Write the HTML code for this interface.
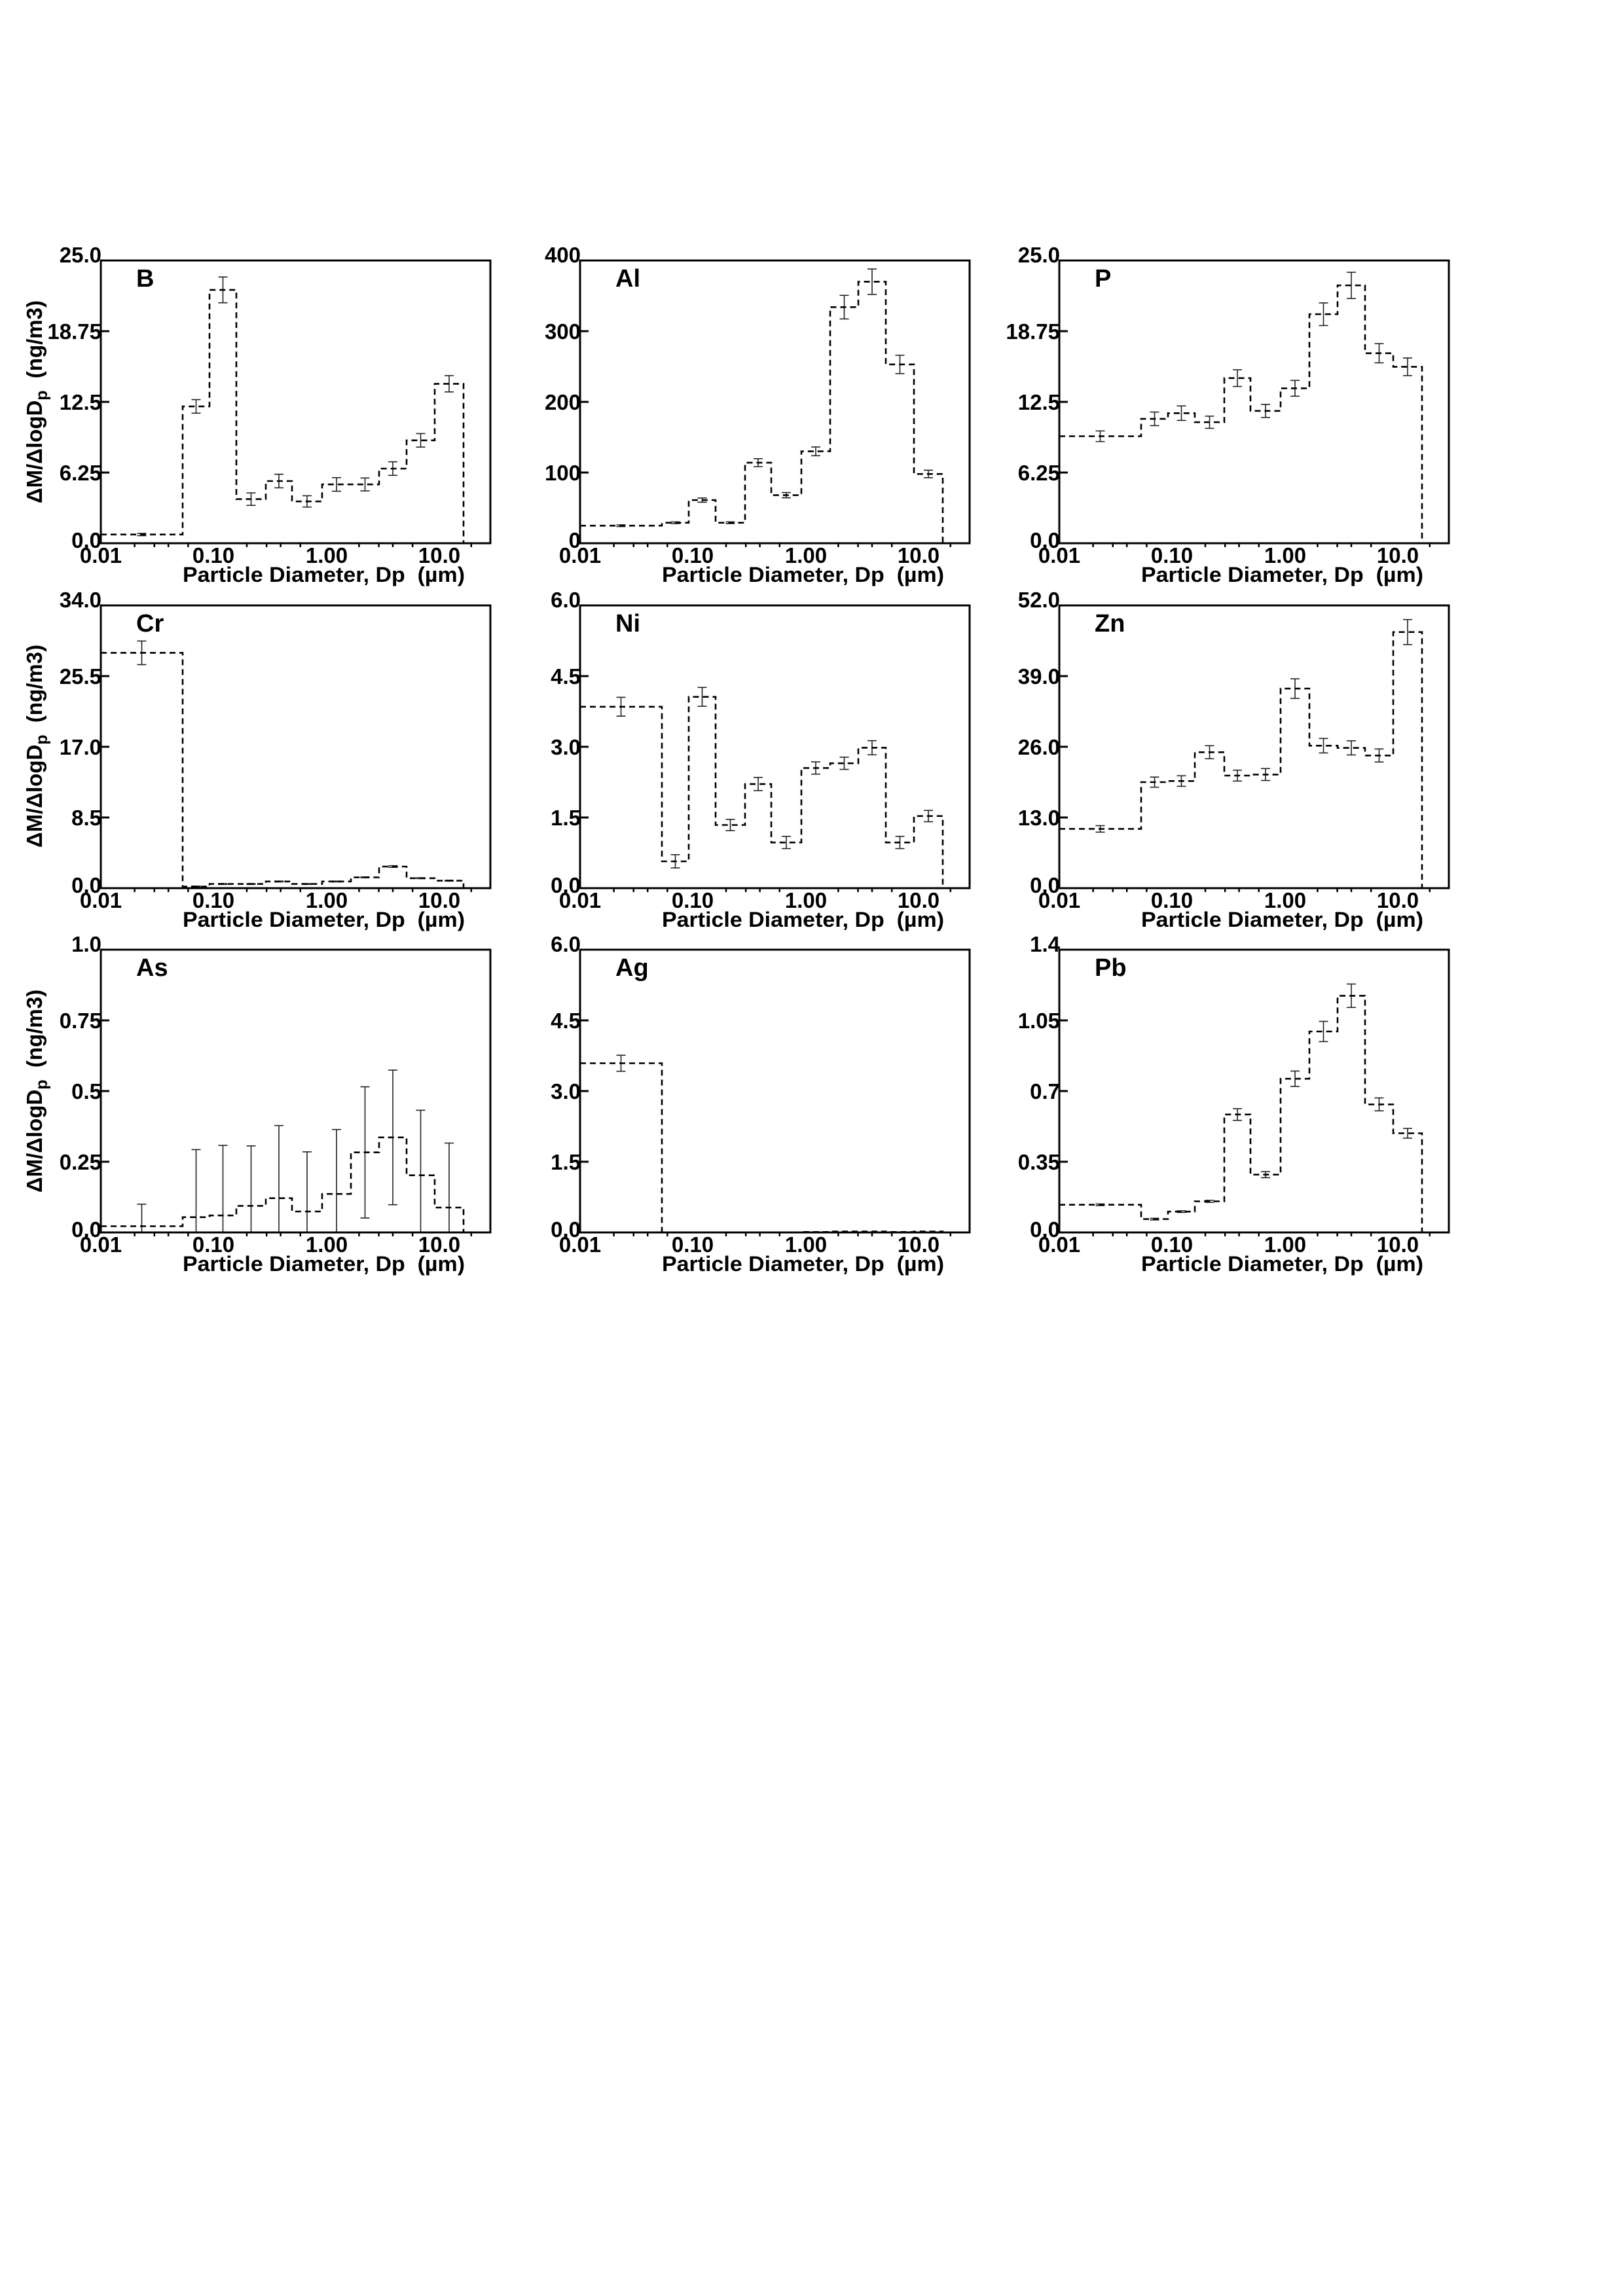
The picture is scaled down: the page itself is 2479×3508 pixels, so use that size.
<!DOCTYPE html>
<html><head><meta charset="utf-8">
<style>
html,body{margin:0;padding:0;background:#fff;}
svg{display:block;}
text{font-family:"Liberation Sans",Arial,sans-serif;font-weight:bold;fill:#000;}
.t{font-size:33px;}
.xt{font-size:33px;text-anchor:middle;}
.yt{text-anchor:end;}
.ti{font-size:32px;}
.lb{font-size:38px;}
</style></head>
<body>
<svg id="s" width="2479" height="3508" viewBox="0 0 2479 3508" xmlns="http://www.w3.org/2000/svg">
<rect width="2479" height="3508" fill="#fff"/>

<text transform="translate(64,614) rotate(-90)" text-anchor="middle" style="font-size:33px">ΔM/ΔlogD<tspan dy="8" style="font-size:25px">p</tspan><tspan dy="-8"> &#160;(ng/m3)</tspan></text>
<text transform="translate(64,1140) rotate(-90)" text-anchor="middle" style="font-size:33px">ΔM/ΔlogD<tspan dy="8" style="font-size:25px">p</tspan><tspan dy="-8"> &#160;(ng/m3)</tspan></text>
<text transform="translate(64,1667) rotate(-90)" text-anchor="middle" style="font-size:33px">ΔM/ΔlogD<tspan dy="8" style="font-size:25px">p</tspan><tspan dy="-8"> &#160;(ng/m3)</tspan></text>

<g id="p0" transform="translate(154,398)">
<text class="t yt" x="1" y="3">25.0</text><text class="t yt" x="1" y="120">18.75</text><text class="t yt" x="1" y="228">12.5</text><text class="t yt" x="1" y="336">6.25</text><text class="t yt" x="1" y="439">0.0</text>
<text class="xt" x="0" y="462">0.01</text><text class="xt" x="172" y="462">0.10</text><text class="xt" x="345" y="462">1.00</text><text class="xt" x="517" y="462">10.0</text>
<text class="ti" x="125" y="491" textLength="431" lengthAdjust="spacingAndGlyphs">Particle Diameter, Dp &#160;(µm)</text>
<text class="lb" x="54" y="40">B</text>
</g>
<g id="p1" transform="translate(886,398)">
<text class="t yt" x="1" y="3">400</text><text class="t yt" x="1" y="120">300</text><text class="t yt" x="1" y="228">200</text><text class="t yt" x="1" y="336">100</text><text class="t yt" x="1" y="439">0</text>
<text class="xt" x="0" y="462">0.01</text><text class="xt" x="172" y="462">0.10</text><text class="xt" x="345" y="462">1.00</text><text class="xt" x="517" y="462">10.0</text>
<text class="ti" x="125" y="491" textLength="431" lengthAdjust="spacingAndGlyphs">Particle Diameter, Dp &#160;(µm)</text>
<text class="lb" x="54" y="40">Al</text>
</g>
<g id="p2" transform="translate(1618,398)">
<text class="t yt" x="1" y="3">25.0</text><text class="t yt" x="1" y="120">18.75</text><text class="t yt" x="1" y="228">12.5</text><text class="t yt" x="1" y="336">6.25</text><text class="t yt" x="1" y="439">0.0</text>
<text class="xt" x="0" y="462">0.01</text><text class="xt" x="172" y="462">0.10</text><text class="xt" x="345" y="462">1.00</text><text class="xt" x="517" y="462">10.0</text>
<text class="ti" x="125" y="491" textLength="431" lengthAdjust="spacingAndGlyphs">Particle Diameter, Dp &#160;(µm)</text>
<text class="lb" x="54" y="40">P</text>
</g>
<g id="p3" transform="translate(154,925)">
<text class="t yt" x="1" y="3">34.0</text><text class="t yt" x="1" y="120">25.5</text><text class="t yt" x="1" y="228">17.0</text><text class="t yt" x="1" y="336">8.5</text><text class="t yt" x="1" y="439">0.0</text>
<text class="xt" x="0" y="462">0.01</text><text class="xt" x="172" y="462">0.10</text><text class="xt" x="345" y="462">1.00</text><text class="xt" x="517" y="462">10.0</text>
<text class="ti" x="125" y="491" textLength="431" lengthAdjust="spacingAndGlyphs">Particle Diameter, Dp &#160;(µm)</text>
<text class="lb" x="54" y="40">Cr</text>
</g>
<g id="p4" transform="translate(886,925)">
<text class="t yt" x="1" y="3">6.0</text><text class="t yt" x="1" y="120">4.5</text><text class="t yt" x="1" y="228">3.0</text><text class="t yt" x="1" y="336">1.5</text><text class="t yt" x="1" y="439">0.0</text>
<text class="xt" x="0" y="462">0.01</text><text class="xt" x="172" y="462">0.10</text><text class="xt" x="345" y="462">1.00</text><text class="xt" x="517" y="462">10.0</text>
<text class="ti" x="125" y="491" textLength="431" lengthAdjust="spacingAndGlyphs">Particle Diameter, Dp &#160;(µm)</text>
<text class="lb" x="54" y="40">Ni</text>
</g>
<g id="p5" transform="translate(1618,925)">
<text class="t yt" x="1" y="3">52.0</text><text class="t yt" x="1" y="120">39.0</text><text class="t yt" x="1" y="228">26.0</text><text class="t yt" x="1" y="336">13.0</text><text class="t yt" x="1" y="439">0.0</text>
<text class="xt" x="0" y="462">0.01</text><text class="xt" x="172" y="462">0.10</text><text class="xt" x="345" y="462">1.00</text><text class="xt" x="517" y="462">10.0</text>
<text class="ti" x="125" y="491" textLength="431" lengthAdjust="spacingAndGlyphs">Particle Diameter, Dp &#160;(µm)</text>
<text class="lb" x="54" y="40">Zn</text>
</g>
<g id="p6" transform="translate(154,1451)">
<text class="t yt" x="1" y="3">1.0</text><text class="t yt" x="1" y="120">0.75</text><text class="t yt" x="1" y="228">0.5</text><text class="t yt" x="1" y="336">0.25</text><text class="t yt" x="1" y="439">0.0</text>
<text class="xt" x="0" y="462">0.01</text><text class="xt" x="172" y="462">0.10</text><text class="xt" x="345" y="462">1.00</text><text class="xt" x="517" y="462">10.0</text>
<text class="ti" x="125" y="491" textLength="431" lengthAdjust="spacingAndGlyphs">Particle Diameter, Dp &#160;(µm)</text>
<text class="lb" x="54" y="40">As</text>
</g>
<g id="p7" transform="translate(886,1451)">
<text class="t yt" x="1" y="3">6.0</text><text class="t yt" x="1" y="120">4.5</text><text class="t yt" x="1" y="228">3.0</text><text class="t yt" x="1" y="336">1.5</text><text class="t yt" x="1" y="439">0.0</text>
<text class="xt" x="0" y="462">0.01</text><text class="xt" x="172" y="462">0.10</text><text class="xt" x="345" y="462">1.00</text><text class="xt" x="517" y="462">10.0</text>
<text class="ti" x="125" y="491" textLength="431" lengthAdjust="spacingAndGlyphs">Particle Diameter, Dp &#160;(µm)</text>
<text class="lb" x="54" y="40">Ag</text>
</g>
<g id="p8" transform="translate(1618,1451)">
<text class="t yt" x="1" y="3">1.4</text><text class="t yt" x="1" y="120">1.05</text><text class="t yt" x="1" y="228">0.7</text><text class="t yt" x="1" y="336">0.35</text><text class="t yt" x="1" y="439">0.0</text>
<text class="xt" x="0" y="462">0.01</text><text class="xt" x="172" y="462">0.10</text><text class="xt" x="345" y="462">1.00</text><text class="xt" x="517" y="462">10.0</text>
<text class="ti" x="125" y="491" textLength="431" lengthAdjust="spacingAndGlyphs">Particle Diameter, Dp &#160;(µm)</text>
<text class="lb" x="54" y="40">Pb</text>
</g>
</svg>
<script>
(function(){
var NS="http://www.w3.org/2000/svg";
var W=595,H=432,DEC=171.4;
var E=[0,125,166,207,252,292,338,382,425,467,510,554];
var D=[
 {m:25,v:[0.77,12.1,22.4,3.9,5.5,3.7,5.2,5.2,6.6,9.1,14.1],e:[0.1,0.6,1.14,0.55,0.6,0.5,0.6,0.57,0.6,0.6,0.72]},
 {m:400,v:[24.8,29,61,29,114,68,130,334,370,253,98],e:[1.2,1.2,3,1.2,5.6,3.7,6.2,16.7,18,13,5.3]},
 {m:25,v:[9.46,11.0,11.5,10.7,14.6,11.7,13.7,20.25,22.8,16.8,15.6],e:[0.47,0.6,0.64,0.54,0.74,0.58,0.7,1.0,1.16,0.85,0.78]},
 {m:34,v:[28.3,0.2,0.5,0.5,0.8,0.5,0.8,1.3,2.6,1.2,0.9],e:[1.42,0.05,0.05,0.05,0.05,0.05,0.05,0.05,0.1,0.05,0.05]},
 {m:6,v:[3.85,0.57,4.06,1.34,2.21,0.97,2.55,2.65,2.98,0.97,1.53],e:[0.2,0.14,0.2,0.12,0.14,0.13,0.13,0.13,0.15,0.13,0.12]},
 {m:52,v:[10.9,19.5,19.7,25,20.7,20.9,36.7,26.2,25.8,24.4,47.1],e:[0.6,0.93,0.97,1.2,1.0,1.1,1.8,1.33,1.3,1.2,2.3]},
 {m:1,v:[0.022,0.054,0.06,0.094,0.121,0.074,0.136,0.283,0.336,0.202,0.088],e:[0.078,0.239,0.248,0.212,0.257,0.211,0.228,0.232,0.238,0.23,0.228]},
 {m:6,v:[3.59,0,0,0,0,0,0.01,0.02,0.02,0.01,0.02],e:[0.17,0,0,0,0,0,0,0,0,0,0]},
 {m:1.4,v:[0.137,0.066,0.103,0.154,0.584,0.286,0.761,0.995,1.172,0.634,0.491],e:[0.004,0.004,0.004,0.005,0.029,0.015,0.038,0.05,0.058,0.032,0.024]}
];
function el(n,a,p){var x=document.createElementNS(NS,n);for(var k in a)x.setAttribute(k,a[k]);p.appendChild(x);return x;}
for(var i=0;i<9;i++){
 var g=document.getElementById("p"+i),d=D[i];
 var Y=function(v){return H-v/d.m*H;};
 for(var b=0;b<11;b++){
  if(d.e[b]<=0)continue;
  var cx=(E[b]+E[b+1])/2,hi=d.v[b]+d.e[b],lo=d.v[b]-d.e[b];
  var y1=Y(hi),y2=lo<0?H:Y(lo);
  el("line",{x1:cx,x2:cx,y1:y1,y2:y2,stroke:"#222","stroke-width":1.6},g);
  el("line",{x1:cx-7,x2:cx+7,y1:y1,y2:y1,stroke:"#222","stroke-width":1.6},g);
  if(lo>=0)el("line",{x1:cx-7,x2:cx+7,y1:y2,y2:y2,stroke:"#222","stroke-width":1.6},g);
 }
 var p="M0,"+Y(d.v[0]).toFixed(1);
 for(var b=0;b<11;b++){
  p+=" H"+E[b+1];
  p+=" V"+(b<10?Y(d.v[b+1]):H).toFixed(1);
 }
 el("path",{d:p,fill:"none",stroke:"#000","stroke-width":2.6,"stroke-dasharray":"9 6"},g);
 el("rect",{x:0,y:0,width:W,height:H,fill:"none",stroke:"#000","stroke-width":3},g);
 [108,216,324].forEach(function(t){el("line",{x1:0,x2:13,y1:t,y2:t,stroke:"#000","stroke-width":3},g);});
 [0.02,0.03,0.04,0.06,0.2,0.3,0.4,0.6,2,3,4,6,20].forEach(function(v){
  var x=Math.log10(v/0.01)*DEC;
  el("line",{x1:x,x2:x,y1:H,y2:H+6,stroke:"#000","stroke-width":2.5},g);
 });
}
})();
</script>
</body></html>
